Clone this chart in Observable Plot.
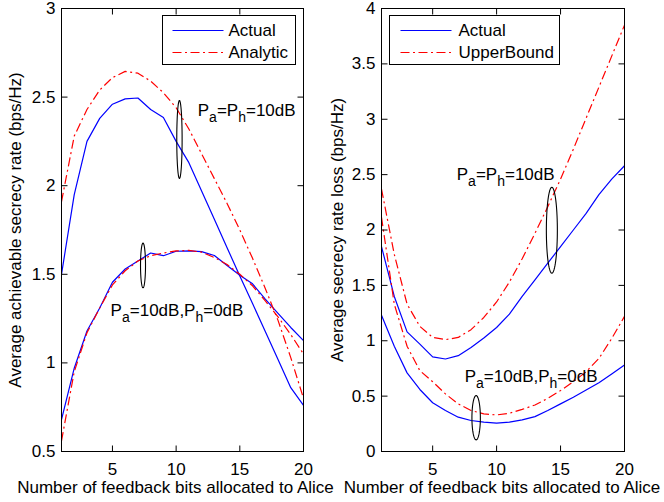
<!DOCTYPE html>
<html><head><meta charset="utf-8">
<script src="https://cdn.jsdelivr.net/npm/d3@7"></script>
<script src="https://cdn.jsdelivr.net/npm/@observablehq/plot@0.6"></script>
<style>
html,body{margin:0;padding:0;background:#fff;}
#wrap{position:relative;width:664px;height:502px;overflow:hidden;background:#fff;}
#wrap svg{position:absolute;top:0;}
</style></head><body><div id="wrap"></div>
<script>
// ---- data ----
const bits = [1,2,3,4,5,6,7,8,9,10,11,12,13,14,15,16,17,18,19,20];
const xTicks = [5,10,15,20];
const leftYTicks = [0.5,1,1.5,2,2.5,3];
const rightYTicks = [0,0.5,1,1.5,2,2.5,3,3.5,4];

// left panel: achievable secrecy rate
const rateActual10   = [1.50,1.95,2.25,2.38,2.46,2.49,2.495,2.43,2.385,2.25,2.13,1.97,1.81,1.65,1.49,1.335,1.177,1.019,0.86,0.76];
const rateAnalytic10 = [1.91,2.28,2.43,2.54,2.61,2.645,2.635,2.59,2.525,2.44,2.32,2.18,2.04,1.90,1.75,1.59,1.42,1.24,1.03,0.80];
const rateActual0    = [0.68,0.97,1.18,1.31,1.455,1.53,1.575,1.62,1.605,1.63,1.632,1.628,1.606,1.55,1.495,1.446,1.36,1.28,1.20,1.126];
const rateAnalytic0  = [0.56,0.95,1.17,1.31,1.44,1.52,1.575,1.605,1.62,1.632,1.635,1.625,1.595,1.555,1.50,1.435,1.35,1.26,1.16,1.05];

// right panel: secrecy rate loss
const lossActual10 = [1.85,1.40,1.08,0.97,0.855,0.835,0.865,0.94,1.025,1.12,1.24,1.40,1.55,1.70,1.85,2.00,2.15,2.32,2.46,2.58];
const lossUpper10  = [2.37,1.78,1.33,1.13,1.03,1.01,1.03,1.10,1.21,1.35,1.53,1.74,1.97,2.21,2.46,2.73,3.01,3.29,3.57,3.85];
const lossActual0  = [1.23,0.95,0.71,0.56,0.44,0.37,0.31,0.28,0.265,0.256,0.265,0.285,0.315,0.37,0.43,0.49,0.555,0.62,0.70,0.78];
const lossUpper0   = [2.115,1.33,0.95,0.73,0.63,0.52,0.43,0.37,0.34,0.33,0.345,0.38,0.42,0.48,0.55,0.63,0.72,0.84,1.02,1.22];

const xLabel = "Number of feedback bits allocated to Alice";
const leftYLabel = "Average achievable secrecy rate (bps/Hz)";
const rightYLabel = "Average secrecy rate loss (bps/Hz)";
const leftLegend = ["Actual", "Analytic"];
const rightLegend = ["Actual", "UpperBound"];

const leftNotes = [
  {x: 15.54, y: 2.391, text: "P_a=P_h=10dB"},
  {x: 10.07, y: 1.267, text: "P_a=10dB,P_h=0dB"}
];
const rightNotes = [
  {x: 10.71, y: 2.447, text: "P_a=P_h=10dB"},
  {x: 12.70, y: 0.626, text: "P_a=10dB,P_h=0dB"}
];
const leftEllipses = [
  {cx: 10.26, cy: 2.261, rx: 0.21, ry: 0.22},
  {cx: 7.40, cy: 1.550, rx: 0.196, ry: 0.126}
];
const rightEllipses = [
  {cx: 14.32, cy: 1.998, rx: 0.43, ry: 0.388},
  {cx: 8.40, cy: 0.305, rx: 0.33, ry: 0.20}
];

// ---- helpers ----
const BLUE = "#0000ff", RED = "#ff0000";
const DASHDOT = "9,3.5,2,3.5";
const FONT = "'Liberation Sans', Arial, Helvetica, sans-serif";
const rows = vals => bits.map((b, i) => ({bits: b, v: vals[i]}));
const ellipsePts = e => d3.range(72).map(i => {
  const t = 2 * Math.PI * i / 72;
  return {x: e.cx + e.rx * Math.cos(t), y: e.cy + e.ry * Math.sin(t)};
});
const lineShape = {draw(ctx, l) { ctx.moveTo(0, 0); ctx.lineTo(0, -l); }};

function tickMarks(yTicks) {
  const common = {length: 6, anchor: "start", shape: lineShape, stroke: "black", strokeWidth: 1, strokeLinecap: "butt"};
  return [
    Plot.vector(xTicks, {x: d => d, frameAnchor: "bottom", rotate: 0, ...common}),
    Plot.vector(xTicks, {x: d => d, frameAnchor: "top", rotate: 180, ...common}),
    Plot.vector(yTicks, {y: d => d, frameAnchor: "left", rotate: 90, ...common}),
    Plot.vector(yTicks, {y: d => d, frameAnchor: "right", rotate: -90, ...common})
  ];
}

function legendMarks(labels, box, lineDx, textDx) {
  return [
    Plot.frame({fill: "white", stroke: "black", strokeWidth: 1, ...box}),
    Plot.vector([0], {frameAnchor: "top-left", dx: lineDx, dy: 22, length: 51, rotate: 90, anchor: "start",
      shape: lineShape, stroke: BLUE, strokeWidth: 1.2, strokeLinecap: "butt"}),
    Plot.vector([0], {frameAnchor: "top-left", dx: lineDx, dy: 44, length: 51, rotate: 90, anchor: "start",
      shape: lineShape, stroke: RED, strokeWidth: 1.2, strokeLinecap: "butt", strokeDasharray: DASHDOT}),
    Plot.text([labels[0]], {frameAnchor: "top-left", dx: textDx, dy: 22, textAnchor: "start", lineAnchor: "middle", fill: "black"}),
    Plot.text([labels[1]], {frameAnchor: "top-left", dx: textDx, dy: 44, textAnchor: "start", lineAnchor: "middle", fill: "black"})
  ];
}

function subscriptify(svg) {
  svg.querySelectorAll("text").forEach(t => {
    const s = t.textContent;
    if (!s.includes("_")) return;
    while (t.firstChild) t.removeChild(t.firstChild);
    const parts = s.split(/(_\w)/);
    let shifted = false;
    for (const p of parts) {
      if (!p) continue;
      const ts = document.createElementNS("http://www.w3.org/2000/svg", "tspan");
      if (p[0] === "_") {
        ts.textContent = p.slice(1);
        ts.setAttribute("dy", "6");
        ts.setAttribute("font-size", "14px");
        shifted = true;
      } else {
        ts.textContent = p;
        if (shifted) { ts.setAttribute("dy", "-6"); shifted = false; }
      }
      t.appendChild(ts);
    }
  });
}

function panel({yDomain, yTicks, series, notes, ellipses, yLabel, legend, box, lineDx, textDx,
                marginLeft, marginRight, xLabelDx, yLabelDx}) {
  const marks = [];
  for (const s of series) {
    marks.push(Plot.line(rows(s.vals), {x: "bits", y: "v", stroke: s.color, strokeWidth: 1.2,
      strokeDasharray: s.dash ? DASHDOT : null, strokeLinecap: "butt", strokeLinejoin: "round"}));
  }
  for (const e of ellipses) {
    marks.push(Plot.line(ellipsePts(e), {x: "x", y: "y", curve: "linear-closed", stroke: "black", strokeWidth: 1.1}));
  }
  marks.push(Plot.text(notes, {x: "x", y: "y", text: "text", textAnchor: "middle", lineAnchor: "bottom", fill: "black"}));
  marks.push(Plot.frame({stroke: "black", strokeWidth: 1}));
  marks.push(...tickMarks(yTicks));
  marks.push(Plot.axisX(xTicks, {anchor: "bottom", tickSize: 0, tickPadding: 11, tickFormat: d => String(d), label: null}));
  marks.push(Plot.axisY(yTicks, {anchor: "left", tickSize: 0, tickPadding: 6, tickFormat: d => String(d), label: null}));
  marks.push(Plot.text([xLabel], {frameAnchor: "bottom", dx: xLabelDx, dy: 41, lineAnchor: "bottom", textAnchor: "middle", fill: "black"}));
  marks.push(Plot.text([yLabel], {frameAnchor: "left", dx: yLabelDx, rotate: -90, textAnchor: "middle", lineAnchor: "middle", fill: "black"}));
  marks.push(...legendMarks(legend, box, lineDx, textDx));
  const svg = Plot.plot({
    width: 332, height: 502,
    marginLeft, marginRight, marginTop: 8, marginBottom: 51,
    x: {domain: [1, 20], axis: null},
    y: {domain: yDomain, axis: null},
    style: {fontFamily: FONT, fontSize: "17px", background: "transparent", overflow: "visible", color: "black"},
    marks
  });
  subscriptify(svg);
  return svg;
}

const left = panel({
  yDomain: [0.5, 3], yTicks: leftYTicks,
  series: [
    {vals: rateActual10, color: BLUE}, {vals: rateActual0, color: BLUE},
    {vals: rateAnalytic10, color: RED, dash: true}, {vals: rateAnalytic0, color: RED, dash: true}
  ],
  notes: leftNotes, ellipses: leftEllipses, yLabel: leftYLabel, legend: leftLegend,
  box: {insetLeft: 101, insetRight: 8, insetTop: 7, insetBottom: 387}, lineDx: 111, textDx: 167,
  marginLeft: 61, marginRight: 29, xLabelDx: -7, yLabelDx: -46
});
const right = panel({
  yDomain: [0, 4], yTicks: rightYTicks,
  series: [
    {vals: lossActual10, color: BLUE}, {vals: lossActual0, color: BLUE},
    {vals: lossUpper10, color: RED, dash: true}, {vals: lossUpper0, color: RED, dash: true}
  ],
  notes: rightNotes, ellipses: rightEllipses, yLabel: rightYLabel, legend: rightLegend,
  box: {insetLeft: 8, insetRight: 65, insetTop: 7, insetBottom: 387}, lineDx: 19, textDx: 77,
  marginLeft: 49, marginRight: 40, xLabelDx: -1, yLabelDx: -44
});
left.style.left = "0px";
right.style.left = "332px";
const wrap = document.getElementById("wrap");
wrap.appendChild(left);
wrap.appendChild(right);
</script>
</body></html>
